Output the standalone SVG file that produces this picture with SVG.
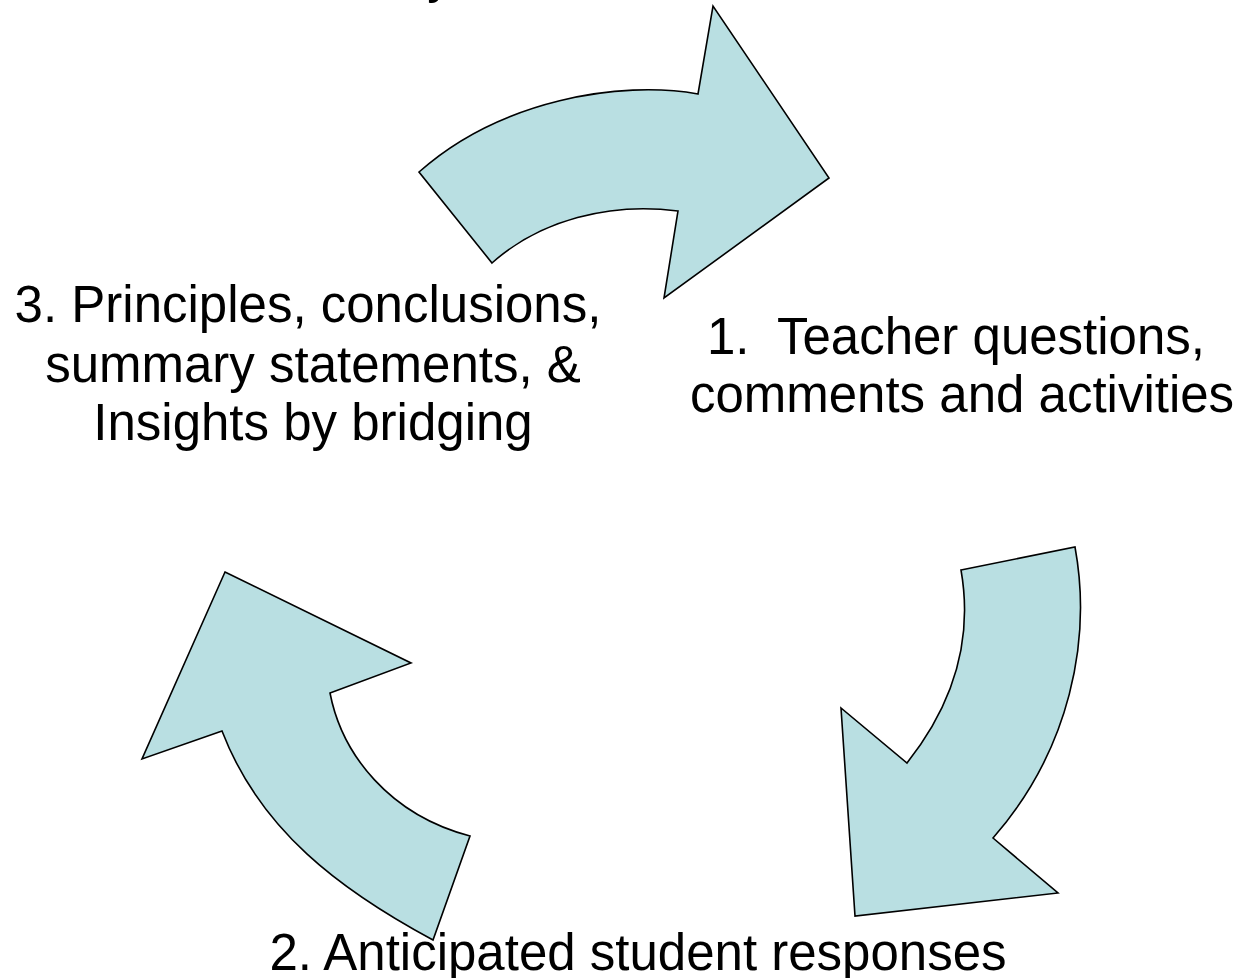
<svg xmlns="http://www.w3.org/2000/svg" width="1239" height="978" viewBox="0 0 1239 978">
  <style>
    .arrow { fill: #B9DFE2; stroke: #000; stroke-width: 1.6; stroke-linejoin: miter; }
    .label { font-family: "Liberation Sans", Arial, sans-serif; font-size: 51px; fill: #000; text-anchor: middle; }
  </style>
  <rect width="1239" height="978" fill="#fff"/>

  <!-- title, clipped at the top edge -->
  <text class="label" x="440" y="-8">y</text>

  <g id="connectors">
    <!-- curved arrow: step 3 to step 1 -->
    <path id="arrow-3-1" class="arrow" d="M419,172 C500,100 620,80 698,94 L713,6 L829,178 L664,298 L678,211 C610,202 540,220 492,263 Z"/>
    <!-- curved arrow: step 1 to step 2 -->
    <path id="arrow-1-2" class="arrow" d="M961,570 L1075,547 C1092,640 1070,750 993,838 L1058,893 L855,916 L841,708 L907,763 C945,715 975,650 961,570 Z"/>
    <!-- curved arrow: step 2 to step 3 -->
    <path id="arrow-2-3" class="arrow" d="M225,572 L411,663 L330,693 C342,755 390,815 470,836 L433,940 C340,890 260,830 222,731 L142,759 Z"/>
  </g>

  <g id="node-1">
    <text class="label" x="956" y="354" xml:space="preserve">1.  Teacher questions,</text>
    <text class="label" x="962" y="412">comments and activities</text>
  </g>

  <g id="node-2">
    <text class="label" x="638" y="970">2. Anticipated student responses</text>
  </g>

  <g id="node-3">
    <text class="label" x="308" y="322">3. Principles, conclusions,</text>
    <text class="label" x="313" y="382">summary statements, &amp;</text>
    <text class="label" x="313" y="440">Insights by bridging</text>
  </g>
</svg>
